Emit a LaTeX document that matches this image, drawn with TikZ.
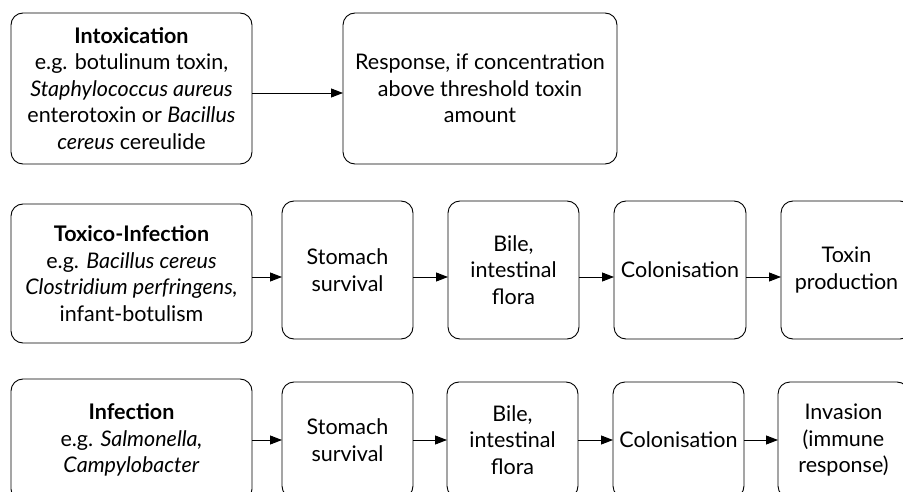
\documentclass[tikz,border=0pt]{standalone}
\usepackage{fontspec}
\setmainfont{Lato}
\usetikzlibrary{arrows.meta}
\tikzset{
  box/.style={draw=black, line width=0.9pt, rounded corners=12pt, fill=white,
    align=center, inner sep=0pt, outer sep=0pt,
    font=\fontsize{21.5}{26.5}\selectfont},
  arr/.style={draw=black, line width=0.9pt, -{Triangle[length=12pt,width=9pt]}}
}
\begin{document}
\begin{tikzpicture}[x=1pt,y=-1pt]
\useasboundingbox (0,0) rectangle (903,492);
\clip (0,0) rectangle (903,492);
\fill[white] (0,0) rectangle (903,492);
% row 1
\node[box, minimum width=241pt, minimum height=151pt] (intox) at (131.5,88.5)
  {\textbf{Intoxication}\\e.g. botulinum toxin,\\\textit{Staphylococcus aureus}\\enterotoxin or \textit{Bacillus}\\\textit{cereus} cereulide};
\node[box, minimum width=274pt, minimum height=151pt] (resp) at (480,88.5)
  {Response, if concentration\\above threshold toxin\\amount};
% row 2
\node[box, minimum width=241pt, minimum height=139pt] (tox) at (131.5,273.5)
  {\textbf{Toxico-Infection}\\e.g. \textit{Bacillus cereus}\\\textit{Clostridium perfringens,}\\infant-botulism};
\node[box, minimum width=131pt, minimum height=138pt] (st2) at (347.5,270) {Stomach\\survival};
\node[box, minimum width=131pt, minimum height=138pt] (bi2) at (513.5,270) {Bile,\\intestinal\\flora};
\node[box, minimum width=132pt, minimum height=138pt] (co2) at (680,270) {Colonisation};
\node[box, minimum width=131pt, minimum height=138pt] (tp2) at (846.5,270) {Toxin\\production};
% row 3
\node[box, minimum width=241pt, minimum height=122pt] (inf) at (131.5,440)
  {\textbf{Infection}\\e.g. \textit{Salmonella,}\\\textit{Campylobacter}};
\node[box, minimum width=131pt, minimum height=116pt] (st3) at (347.5,440) {Stomach\\survival};
\node[box, minimum width=131pt, minimum height=116pt] (bi3) at (512.5,440) {Bile,\\intestinal\\flora};
\node[box, minimum width=131pt, minimum height=116pt] (co3) at (678.5,440) {Colonisation};
\node[box, minimum width=131pt, minimum height=116pt] (inv) at (843.5,440) {Invasion\\(immune\\response)};
% arrow levels
\coordinate (r1) at (0,93);
\coordinate (r2) at (0,277);
\coordinate (r3) at (0,440);
\draw[arr] (intox.east |- r1) -- (resp.west |- r1);
\draw[arr] (tox.east |- r2) -- (st2.west |- r2);
\draw[arr] (st2.east |- r2) -- (bi2.west |- r2);
\draw[arr] (bi2.east |- r2) -- (co2.west |- r2);
\draw[arr] (co2.east |- r2) -- (tp2.west |- r2);
\draw[arr] (inf.east |- r3) -- (st3.west |- r3);
\draw[arr] (st3.east |- r3) -- (bi3.west |- r3);
\draw[arr] (bi3.east |- r3) -- (co3.west |- r3);
\draw[arr] (co3.east |- r3) -- (inv.west |- r3);
\end{tikzpicture}
\end{document}
